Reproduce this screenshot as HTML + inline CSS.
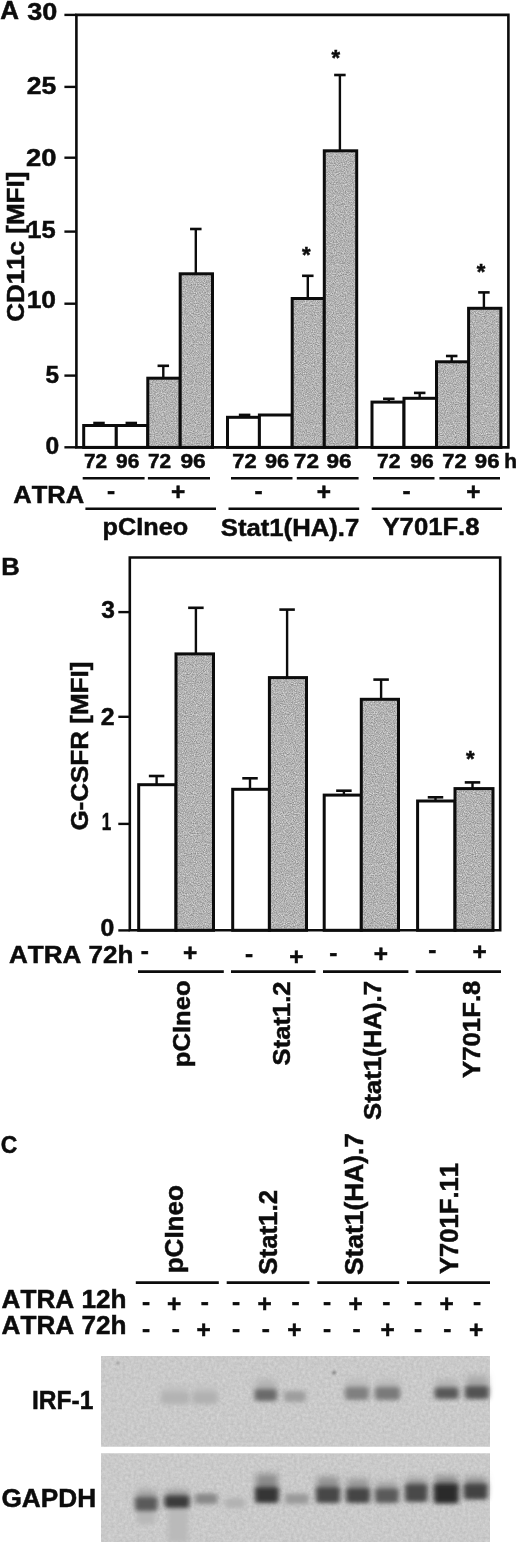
<!DOCTYPE html>
<html><head><meta charset="utf-8"><title>Figure</title>
<style>
html,body{margin:0;padding:0;background:#fff;}
svg{display:block;}
text{font-family:"Liberation Sans",Arial,sans-serif;font-weight:bold;font-kerning:none;fill:#0c0c0c;stroke:#0c0c0c;stroke-width:0.5px;}
</style></head><body>
<svg width="520" height="1542" viewBox="0 0 520 1542">
<defs>
<filter id="blur" x="-50%" y="-80%" width="200%" height="260%"><feGaussianBlur stdDeviation="2.4 2.2"/></filter>
<filter id="blur2" x="-50%" y="-80%" width="200%" height="260%"><feGaussianBlur stdDeviation="3 3.5"/></filter>
<filter id="blur1" x="-100%" y="-100%" width="300%" height="300%"><feGaussianBlur stdDeviation="0.8"/></filter>
<filter id="grain" x="0" y="0" width="100%" height="100%" color-interpolation-filters="sRGB">
 <feTurbulence type="fractalNoise" baseFrequency="0.9" numOctaves="2" seed="7" result="t"/>
 <feColorMatrix in="t" type="matrix" values="0.5 0 0 0 0.449  0.5 0 0 0 0.449  0.5 0 0 0 0.449  0 0 0 0 1" result="g"/>
 <feComposite in="g" in2="SourceGraphic" operator="in"/>
</filter>
<filter id="grain2" x="0" y="0" width="100%" height="100%" color-interpolation-filters="sRGB">
 <feTurbulence type="fractalNoise" baseFrequency="0.35" numOctaves="3" seed="3" result="t"/>
 <feColorMatrix in="t" type="matrix" values="0.12 0 0 0 0.73  0.12 0 0 0 0.73  0.12 0 0 0 0.73  0 0 0 0 1" result="g"/>
 <feComposite in="g" in2="SourceGraphic" operator="in"/>
</filter>
</defs>
<rect width="520" height="1542" fill="#fff"/>
<line x1="99.0" y1="425.5" x2="99.0" y2="423.0" stroke="#0c0c0c" stroke-width="2.4"/>
<line x1="93.25" y1="423.0" x2="104.75" y2="423.0" stroke="#0c0c0c" stroke-width="2.6"/>
<rect x="83.7" y="425.5" width="32.60" height="21.90" fill="#fff" stroke="#0c0c0c" stroke-width="3.0"/>
<line x1="131.3" y1="425.5" x2="131.3" y2="423.0" stroke="#0c0c0c" stroke-width="2.4"/>
<line x1="125.55000000000001" y1="423.0" x2="137.05" y2="423.0" stroke="#0c0c0c" stroke-width="2.6"/>
<rect x="116.3" y="425.5" width="31.50" height="21.90" fill="#fff" stroke="#0c0c0c" stroke-width="3.0"/>
<line x1="163.3" y1="378.2" x2="163.3" y2="365.8" stroke="#0c0c0c" stroke-width="2.4"/>
<line x1="157.55" y1="365.8" x2="169.05" y2="365.8" stroke="#0c0c0c" stroke-width="2.6"/>
<rect x="147.8" y="378.2" width="32.40" height="69.20" fill="#b2b2b2" filter="url(#grain)"/>
<rect x="147.8" y="378.2" width="32.40" height="69.20" fill="none" stroke="#0c0c0c" stroke-width="3.0"/>
<line x1="195.8" y1="273.8" x2="195.8" y2="229" stroke="#0c0c0c" stroke-width="2.4"/>
<line x1="190.05" y1="229" x2="201.55" y2="229" stroke="#0c0c0c" stroke-width="2.6"/>
<rect x="180.2" y="273.8" width="32.30" height="173.60" fill="#b2b2b2" filter="url(#grain)"/>
<rect x="180.2" y="273.8" width="32.30" height="173.60" fill="none" stroke="#0c0c0c" stroke-width="3.0"/>
<line x1="244.6" y1="417.3" x2="244.6" y2="414.9" stroke="#0c0c0c" stroke-width="2.4"/>
<line x1="238.85" y1="414.9" x2="250.35" y2="414.9" stroke="#0c0c0c" stroke-width="2.6"/>
<rect x="227.5" y="417.3" width="31.90" height="30.10" fill="#fff" stroke="#0c0c0c" stroke-width="3.0"/>
<rect x="259.4" y="415" width="32.80" height="32.40" fill="#fff" stroke="#0c0c0c" stroke-width="3.0"/>
<line x1="307.8" y1="298.5" x2="307.8" y2="275.8" stroke="#0c0c0c" stroke-width="2.4"/>
<line x1="302.05" y1="275.8" x2="313.55" y2="275.8" stroke="#0c0c0c" stroke-width="2.6"/>
<rect x="292.2" y="298.5" width="32.10" height="148.90" fill="#b2b2b2" filter="url(#grain)"/>
<rect x="292.2" y="298.5" width="32.10" height="148.90" fill="none" stroke="#0c0c0c" stroke-width="3.0"/>
<line x1="339.9" y1="150.8" x2="339.9" y2="75" stroke="#0c0c0c" stroke-width="2.4"/>
<line x1="334.15" y1="75" x2="345.65" y2="75" stroke="#0c0c0c" stroke-width="2.6"/>
<rect x="324.3" y="150.8" width="32.40" height="296.60" fill="#b2b2b2" filter="url(#grain)"/>
<rect x="324.3" y="150.8" width="32.40" height="296.60" fill="none" stroke="#0c0c0c" stroke-width="3.0"/>
<line x1="388.8" y1="402.1" x2="388.8" y2="398.8" stroke="#0c0c0c" stroke-width="2.4"/>
<line x1="383.05" y1="398.8" x2="394.55" y2="398.8" stroke="#0c0c0c" stroke-width="2.6"/>
<rect x="372" y="402.1" width="32.00" height="45.30" fill="#fff" stroke="#0c0c0c" stroke-width="3.0"/>
<line x1="419.7" y1="398.3" x2="419.7" y2="392.9" stroke="#0c0c0c" stroke-width="2.4"/>
<line x1="413.95" y1="392.9" x2="425.45" y2="392.9" stroke="#0c0c0c" stroke-width="2.6"/>
<rect x="404" y="398.3" width="32.50" height="49.10" fill="#fff" stroke="#0c0c0c" stroke-width="3.0"/>
<line x1="451.7" y1="361.8" x2="451.7" y2="356" stroke="#0c0c0c" stroke-width="2.4"/>
<line x1="445.95" y1="356" x2="457.45" y2="356" stroke="#0c0c0c" stroke-width="2.6"/>
<rect x="436.5" y="361.8" width="32.10" height="85.60" fill="#b2b2b2" filter="url(#grain)"/>
<rect x="436.5" y="361.8" width="32.10" height="85.60" fill="none" stroke="#0c0c0c" stroke-width="3.0"/>
<line x1="483.9" y1="308.3" x2="483.9" y2="292.4" stroke="#0c0c0c" stroke-width="2.4"/>
<line x1="478.15" y1="292.4" x2="489.65" y2="292.4" stroke="#0c0c0c" stroke-width="2.6"/>
<rect x="468.6" y="308.3" width="32.30" height="139.10" fill="#b2b2b2" filter="url(#grain)"/>
<rect x="468.6" y="308.3" width="32.30" height="139.10" fill="none" stroke="#0c0c0c" stroke-width="3.0"/>
<path d="M76.4,447.4 V14.9 H508.4 V447.4 Z" fill="none" stroke="#0c0c0c" stroke-width="2.6"/>
<line x1="64.4" y1="14.9" x2="76.4" y2="14.9" stroke="#0c0c0c" stroke-width="2.4"/>
<line x1="64.4" y1="86.9" x2="76.4" y2="86.9" stroke="#0c0c0c" stroke-width="2.4"/>
<line x1="64.4" y1="157.7" x2="76.4" y2="157.7" stroke="#0c0c0c" stroke-width="2.4"/>
<line x1="64.4" y1="231.6" x2="76.4" y2="231.6" stroke="#0c0c0c" stroke-width="2.4"/>
<line x1="64.4" y1="303.7" x2="76.4" y2="303.7" stroke="#0c0c0c" stroke-width="2.4"/>
<line x1="64.4" y1="375.6" x2="76.4" y2="375.6" stroke="#0c0c0c" stroke-width="2.4"/>
<line x1="64.4" y1="447.3" x2="76.4" y2="447.3" stroke="#0c0c0c" stroke-width="2.4"/>
<text x="0.20" y="19.00" font-size="25.00" textLength="18.73" lengthAdjust="spacingAndGlyphs">A</text>
<text x="27.33" y="19.80" font-size="24.00" textLength="30.03" lengthAdjust="spacingAndGlyphs">30</text>
<text x="26.83" y="94.30" font-size="24.00" textLength="29.46" lengthAdjust="spacingAndGlyphs">25</text>
<text x="26.10" y="166.10" font-size="24.00" textLength="30.47" lengthAdjust="spacingAndGlyphs">20</text>
<text x="27.35" y="238.00" font-size="24.00" textLength="28.31" lengthAdjust="spacingAndGlyphs">15</text>
<text x="26.69" y="307.90" font-size="24.00" textLength="29.34" lengthAdjust="spacingAndGlyphs">10</text>
<text x="45.40" y="383.00" font-size="24.00" textLength="13.52" lengthAdjust="spacingAndGlyphs">5</text>
<text x="45.58" y="454.20" font-size="24.00" textLength="13.68" lengthAdjust="spacingAndGlyphs">0</text>
<text transform="translate(24.40,321.00) rotate(-90)" x="-0.82" y="0" font-size="24.00" textLength="150.12" lengthAdjust="spacingAndGlyphs">CD11c [MFI]</text>
<text x="301.90" y="261.84" font-size="22.00">*</text>
<text x="331.40" y="64.94" font-size="22.00">*</text>
<text x="476.70" y="279.04" font-size="22.00">*</text>
<text x="83.96" y="467.50" font-size="19.60" textLength="23.13" lengthAdjust="spacingAndGlyphs">72</text>
<text x="116.12" y="467.50" font-size="19.60" textLength="23.28" lengthAdjust="spacingAndGlyphs">96</text>
<text x="147.96" y="467.50" font-size="19.60" textLength="23.13" lengthAdjust="spacingAndGlyphs">72</text>
<text x="180.46" y="467.50" font-size="19.60" textLength="25.31" lengthAdjust="spacingAndGlyphs">96</text>
<text x="232.31" y="467.50" font-size="19.60" textLength="24.31" lengthAdjust="spacingAndGlyphs">72</text>
<text x="264.90" y="467.50" font-size="19.60" textLength="24.14" lengthAdjust="spacingAndGlyphs">96</text>
<text x="293.88" y="467.50" font-size="19.60" textLength="25.07" lengthAdjust="spacingAndGlyphs">72</text>
<text x="326.47" y="467.50" font-size="19.60" textLength="25.10" lengthAdjust="spacingAndGlyphs">96</text>
<text x="377.14" y="467.50" font-size="19.60" textLength="23.45" lengthAdjust="spacingAndGlyphs">72</text>
<text x="410.32" y="467.50" font-size="19.60" textLength="23.39" lengthAdjust="spacingAndGlyphs">96</text>
<text x="442.31" y="467.50" font-size="19.60" textLength="24.31" lengthAdjust="spacingAndGlyphs">72</text>
<text x="474.88" y="467.50" font-size="19.60" textLength="24.67" lengthAdjust="spacingAndGlyphs">96</text>
<text x="504.29" y="467.50" font-size="19.60" textLength="12.75" lengthAdjust="spacingAndGlyphs">h</text>
<line x1="82.7" y1="478.2" x2="144.6" y2="478.2" stroke="#0c0c0c" stroke-width="2.4"/>
<line x1="147.9" y1="478.2" x2="210" y2="478.2" stroke="#0c0c0c" stroke-width="2.4"/>
<line x1="231" y1="478.2" x2="292.5" y2="478.2" stroke="#0c0c0c" stroke-width="2.4"/>
<line x1="296.8" y1="478.2" x2="358.6" y2="478.2" stroke="#0c0c0c" stroke-width="2.4"/>
<line x1="373" y1="478.2" x2="434.5" y2="478.2" stroke="#0c0c0c" stroke-width="2.4"/>
<line x1="439.4" y1="478.2" x2="500" y2="478.2" stroke="#0c0c0c" stroke-width="2.4"/>
<text x="13.32" y="503.20" font-size="24.30" textLength="70.81" lengthAdjust="spacingAndGlyphs">ATRA</text>
<text x="107.10" y="498.53" font-size="24.40">-</text>
<text x="254.60" y="498.53" font-size="24.40">-</text>
<text x="402.50" y="498.53" font-size="24.40">-</text>
<text x="170.91" y="500.41" font-size="24.40">+</text>
<text x="316.71" y="500.41" font-size="24.40">+</text>
<text x="466.21" y="500.41" font-size="24.40">+</text>
<line x1="85.4" y1="508.8" x2="216" y2="508.8" stroke="#0c0c0c" stroke-width="2.5"/>
<line x1="228.5" y1="508.8" x2="359.2" y2="508.8" stroke="#0c0c0c" stroke-width="2.5"/>
<line x1="371.7" y1="508.8" x2="502" y2="508.8" stroke="#0c0c0c" stroke-width="2.5"/>
<text x="102.59" y="535.30" font-size="24.00" textLength="85.55" lengthAdjust="spacingAndGlyphs">pCIneo</text>
<text x="220.81" y="536.30" font-size="24.00" textLength="138.47" lengthAdjust="spacingAndGlyphs">Stat1(HA).7</text>
<text x="382.51" y="535.40" font-size="24.00" textLength="97.03" lengthAdjust="spacingAndGlyphs">Y701F.8</text>
<line x1="156.6" y1="784.7" x2="156.6" y2="776" stroke="#0c0c0c" stroke-width="2.4"/>
<line x1="148.85" y1="776" x2="164.35" y2="776" stroke="#0c0c0c" stroke-width="2.6"/>
<rect x="138.7" y="784.7" width="37.30" height="145.60" fill="#fff" stroke="#0c0c0c" stroke-width="3.0"/>
<line x1="195.9" y1="653.9" x2="195.9" y2="607.8" stroke="#0c0c0c" stroke-width="2.4"/>
<line x1="188.15" y1="607.8" x2="203.65" y2="607.8" stroke="#0c0c0c" stroke-width="2.6"/>
<rect x="176" y="653.9" width="37.50" height="276.40" fill="#b2b2b2" filter="url(#grain)"/>
<rect x="176" y="653.9" width="37.50" height="276.40" fill="none" stroke="#0c0c0c" stroke-width="3.0"/>
<line x1="250" y1="789.3" x2="250" y2="778.3" stroke="#0c0c0c" stroke-width="2.4"/>
<line x1="242.25" y1="778.3" x2="257.75" y2="778.3" stroke="#0c0c0c" stroke-width="2.6"/>
<rect x="232.7" y="789.3" width="36.70" height="141.00" fill="#fff" stroke="#0c0c0c" stroke-width="3.0"/>
<line x1="287.1" y1="677.6" x2="287.1" y2="609.6" stroke="#0c0c0c" stroke-width="2.4"/>
<line x1="279.35" y1="609.6" x2="294.85" y2="609.6" stroke="#0c0c0c" stroke-width="2.6"/>
<rect x="269.4" y="677.6" width="37.10" height="252.70" fill="#b2b2b2" filter="url(#grain)"/>
<rect x="269.4" y="677.6" width="37.10" height="252.70" fill="none" stroke="#0c0c0c" stroke-width="3.0"/>
<line x1="343.9" y1="795.1" x2="343.9" y2="790.7" stroke="#0c0c0c" stroke-width="2.4"/>
<line x1="336.15" y1="790.7" x2="351.65" y2="790.7" stroke="#0c0c0c" stroke-width="2.6"/>
<rect x="324.2" y="795.1" width="37.10" height="135.20" fill="#fff" stroke="#0c0c0c" stroke-width="3.0"/>
<line x1="381.1" y1="699.3" x2="381.1" y2="679.6" stroke="#0c0c0c" stroke-width="2.4"/>
<line x1="373.35" y1="679.6" x2="388.85" y2="679.6" stroke="#0c0c0c" stroke-width="2.6"/>
<rect x="361.3" y="699.3" width="37.20" height="231.00" fill="#b2b2b2" filter="url(#grain)"/>
<rect x="361.3" y="699.3" width="37.20" height="231.00" fill="none" stroke="#0c0c0c" stroke-width="3.0"/>
<line x1="435.5" y1="801" x2="435.5" y2="797.3" stroke="#0c0c0c" stroke-width="2.4"/>
<line x1="427.75" y1="797.3" x2="443.25" y2="797.3" stroke="#0c0c0c" stroke-width="2.6"/>
<rect x="417.6" y="801" width="37.40" height="129.30" fill="#fff" stroke="#0c0c0c" stroke-width="3.0"/>
<line x1="472.5" y1="788.6" x2="472.5" y2="782.4" stroke="#0c0c0c" stroke-width="2.4"/>
<line x1="464.75" y1="782.4" x2="480.25" y2="782.4" stroke="#0c0c0c" stroke-width="2.6"/>
<rect x="455" y="788.6" width="38.00" height="141.70" fill="#b2b2b2" filter="url(#grain)"/>
<rect x="455" y="788.6" width="38.00" height="141.70" fill="none" stroke="#0c0c0c" stroke-width="3.0"/>
<path d="M129.8,930.3 V557.5 H500.2 V930.3 Z" fill="none" stroke="#0c0c0c" stroke-width="2.6"/>
<line x1="118.3" y1="930.4" x2="129.8" y2="930.4" stroke="#0c0c0c" stroke-width="2.4"/>
<line x1="118.3" y1="823.9" x2="129.8" y2="823.9" stroke="#0c0c0c" stroke-width="2.4"/>
<line x1="118.3" y1="716.8" x2="129.8" y2="716.8" stroke="#0c0c0c" stroke-width="2.4"/>
<line x1="118.3" y1="612.1" x2="129.8" y2="612.1" stroke="#0c0c0c" stroke-width="2.4"/>
<text x="1.24" y="575.00" font-size="24.00" textLength="18.47" lengthAdjust="spacingAndGlyphs">B</text>
<text x="101.19" y="618.40" font-size="24.00" textLength="13.65" lengthAdjust="spacingAndGlyphs">3</text>
<text x="100.89" y="725.00" font-size="24.00" textLength="13.86" lengthAdjust="spacingAndGlyphs">2</text>
<text x="101.78" y="829.50" font-size="24.00" textLength="9.44" lengthAdjust="spacingAndGlyphs">1</text>
<text x="100.57" y="936.40" font-size="24.00" textLength="13.80" lengthAdjust="spacingAndGlyphs">0</text>
<text transform="translate(88.00,829.80) rotate(-90)" x="-0.82" y="0" font-size="24.00" textLength="168.93" lengthAdjust="spacingAndGlyphs">G-CSFR [MFI]</text>
<text x="465.90" y="765.74" font-size="22.00">*</text>
<text x="9.00" y="963.30" font-size="24.50" textLength="124.36" lengthAdjust="spacingAndGlyphs">ATRA 72h</text>
<text x="140.70" y="959.23" font-size="24.40">-</text>
<text x="244.95" y="961.73" font-size="24.40">-</text>
<text x="329.15" y="960.63" font-size="24.40">-</text>
<text x="428.25" y="957.53" font-size="24.40">-</text>
<text x="182.91" y="961.21" font-size="24.40">+</text>
<text x="289.31" y="964.51" font-size="24.40">+</text>
<text x="373.71" y="962.46" font-size="24.40">+</text>
<text x="472.46" y="960.06" font-size="24.40">+</text>
<line x1="138" y1="971.7" x2="223.8" y2="971.7" stroke="#0c0c0c" stroke-width="2.8"/>
<line x1="231" y1="971.7" x2="315.6" y2="971.7" stroke="#0c0c0c" stroke-width="2.8"/>
<line x1="323" y1="971.7" x2="408.4" y2="971.7" stroke="#0c0c0c" stroke-width="2.8"/>
<line x1="415.7" y1="971.7" x2="501" y2="971.7" stroke="#0c0c0c" stroke-width="2.8"/>
<text transform="translate(189.70,1065.80) rotate(-90)" x="-1.44" y="0" font-size="24.50" textLength="86.79" lengthAdjust="spacingAndGlyphs">pCIneo</text>
<text transform="translate(289.60,1064.90) rotate(-90)" x="-0.49" y="0" font-size="24.50" textLength="83.96" lengthAdjust="spacingAndGlyphs">Stat1.2</text>
<text transform="translate(380.90,1119.50) rotate(-90)" x="-0.49" y="0" font-size="24.50" textLength="139.08" lengthAdjust="spacingAndGlyphs">Stat1(HA).7</text>
<text transform="translate(479.80,1077.70) rotate(-90)" x="-0.19" y="0" font-size="24.50" textLength="97.23" lengthAdjust="spacingAndGlyphs">Y701F.8</text>
<text x="0.81" y="1152.60" font-size="24.60" textLength="16.57" lengthAdjust="spacingAndGlyphs">C</text>
<text transform="translate(182.80,1271.90) rotate(-90)" x="-1.47" y="0" font-size="26.00" textLength="88.34" lengthAdjust="spacingAndGlyphs">pCIneo</text>
<text transform="translate(276.80,1274.20) rotate(-90)" x="-0.49" y="0" font-size="26.00" textLength="84.68" lengthAdjust="spacingAndGlyphs">Stat1.2</text>
<text transform="translate(362.80,1274.50) rotate(-90)" x="-0.51" y="0" font-size="26.00" textLength="142.02" lengthAdjust="spacingAndGlyphs">Stat1(HA).7</text>
<text transform="translate(457.80,1273.80) rotate(-90)" x="-0.19" y="0" font-size="26.00" textLength="110.95" lengthAdjust="spacingAndGlyphs">Y701F.11</text>
<line x1="135.8" y1="1282.6" x2="218.8" y2="1282.6" stroke="#0c0c0c" stroke-width="2.6"/>
<line x1="226.7" y1="1282.6" x2="309.4" y2="1282.6" stroke="#0c0c0c" stroke-width="2.6"/>
<line x1="317.3" y1="1282.6" x2="399.2" y2="1282.6" stroke="#0c0c0c" stroke-width="2.6"/>
<line x1="407" y1="1282.6" x2="490" y2="1282.6" stroke="#0c0c0c" stroke-width="2.6"/>
<text x="1.60" y="1307.70" font-size="25.50" textLength="124.97" lengthAdjust="spacingAndGlyphs">ATRA 12h</text>
<text x="1.60" y="1333.90" font-size="25.50" textLength="124.97" lengthAdjust="spacingAndGlyphs">ATRA 72h</text>
<text x="142.00" y="1310.03" font-size="24.40">-</text>
<text x="167.11" y="1312.11" font-size="24.40">+</text>
<text x="200.80" y="1310.03" font-size="24.40">-</text>
<text x="232.00" y="1310.03" font-size="24.40">-</text>
<text x="257.61" y="1312.11" font-size="24.40">+</text>
<text x="291.55" y="1310.03" font-size="24.40">-</text>
<text x="323.00" y="1310.03" font-size="24.40">-</text>
<text x="348.56" y="1312.11" font-size="24.40">+</text>
<text x="382.20" y="1310.03" font-size="24.40">-</text>
<text x="413.90" y="1310.03" font-size="24.40">-</text>
<text x="439.61" y="1312.11" font-size="24.40">+</text>
<text x="472.90" y="1310.03" font-size="24.40">-</text>
<text x="142.00" y="1336.93" font-size="24.40">-</text>
<text x="171.75" y="1336.93" font-size="24.40">-</text>
<text x="196.56" y="1338.41" font-size="24.40">+</text>
<text x="232.00" y="1336.93" font-size="24.40">-</text>
<text x="261.75" y="1336.93" font-size="24.40">-</text>
<text x="287.36" y="1338.41" font-size="24.40">+</text>
<text x="323.00" y="1336.93" font-size="24.40">-</text>
<text x="352.50" y="1336.93" font-size="24.40">-</text>
<text x="380.56" y="1338.41" font-size="24.40">+</text>
<text x="413.90" y="1336.93" font-size="24.40">-</text>
<text x="443.35" y="1336.93" font-size="24.40">-</text>
<text x="468.96" y="1338.41" font-size="24.40">+</text>
<text x="32.01" y="1409.00" font-size="26.50" textLength="61.43" lengthAdjust="spacingAndGlyphs">IRF-1</text>
<text x="1.48" y="1507.20" font-size="26.00" textLength="94.64" lengthAdjust="spacingAndGlyphs">GAPDH</text>
<rect x="101" y="1356" width="389" height="90.5" fill="#c9c9c9"/>
<rect x="101" y="1356" width="389" height="90.5" fill="#c9c9c9" filter="url(#grain2)"/>
<line x1="245.5" y1="1356" x2="245.5" y2="1371" stroke="#8a8a8a" stroke-width="1.6" filter="url(#blur1)"/><circle cx="334" cy="1372.5" r="1.6" fill="#666" filter="url(#blur1)"/><circle cx="118" cy="1363" r="1.3" fill="#888" filter="url(#blur1)"/>
<rect x="162" y="1386" width="26" height="11" fill="#c0c0c0" filter="url(#blur2)"/>
<rect x="161" y="1392" width="28" height="12" rx="3" fill="#b3b3b3" filter="url(#blur)"/>
<rect x="193.5" y="1386" width="23.0" height="11" fill="#c0c0c0" filter="url(#blur2)"/>
<rect x="192.5" y="1392" width="25.0" height="12" rx="3" fill="#b1b1b1" filter="url(#blur)"/>
<rect x="255.6" y="1380" width="20.400000000000006" height="14" fill="#b0b0b0" filter="url(#blur2)"/>
<rect x="254.6" y="1389" width="22.400000000000006" height="12" rx="3" fill="#6a6a6a" filter="url(#blur)"/>
<rect x="283.8" y="1391" width="22.19999999999999" height="11" rx="3" fill="#9e9e9e" filter="url(#blur)"/>
<rect x="346" y="1380" width="21.69999999999999" height="12" fill="#b8b8b8" filter="url(#blur2)"/>
<rect x="345" y="1387" width="23.69999999999999" height="13" rx="3" fill="#808080" filter="url(#blur)"/>
<rect x="376" y="1380" width="23" height="12" fill="#b8b8b8" filter="url(#blur2)"/>
<rect x="375" y="1387" width="25" height="13" rx="3" fill="#7a7a7a" filter="url(#blur)"/>
<rect x="435.7" y="1380" width="21.80000000000001" height="12.5" fill="#b0b0b0" filter="url(#blur2)"/>
<rect x="434.7" y="1387.5" width="23.80000000000001" height="11.5" rx="3" fill="#585858" filter="url(#blur)"/>
<rect x="466" y="1376" width="21.69999999999999" height="15" fill="#a8a8a8" filter="url(#blur2)"/>
<rect x="465" y="1386" width="23.69999999999999" height="13" rx="3" fill="#525252" filter="url(#blur)"/>
<rect x="101" y="1453.5" width="389" height="88.5" fill="#c9c9c9"/>
<rect x="101" y="1453.5" width="389" height="88.5" fill="#c9c9c9" filter="url(#grain2)"/>
<rect x="168" y="1508" width="20" height="34" fill="#bababa" filter="url(#blur)"/><rect x="137" y="1510" width="18" height="14" fill="#b8b8b8" filter="url(#blur)"/>
<rect x="136" y="1490" width="20.5" height="12" fill="#a0a0a0" filter="url(#blur2)"/>
<rect x="135" y="1497" width="22.5" height="14" rx="3" fill="#5a5a5a" filter="url(#blur)"/>
<rect x="165.5" y="1490" width="23.0" height="10.5" fill="#9a9a9a" filter="url(#blur2)"/>
<rect x="164.5" y="1495.5" width="25.0" height="12.5" rx="3" fill="#3a3a3a" filter="url(#blur)"/>
<rect x="195" y="1493.5" width="22.5" height="10.5" rx="3" fill="#888888" filter="url(#blur)"/>
<rect x="225" y="1498" width="20" height="10" rx="3" fill="#b2b2b2" filter="url(#blur)"/>
<rect x="256" y="1474" width="21.69999999999999" height="18" fill="#8a8a8a" filter="url(#blur2)"/>
<rect x="255" y="1487" width="23.69999999999999" height="16" rx="3" fill="#363636" filter="url(#blur)"/>
<rect x="285" y="1493.5" width="23.69999999999999" height="10.5" rx="3" fill="#9a9a9a" filter="url(#blur)"/>
<rect x="317" y="1477" width="22" height="15" fill="#909090" filter="url(#blur2)"/>
<rect x="316" y="1487" width="24" height="16" rx="3" fill="#464646" filter="url(#blur)"/>
<rect x="347" y="1479" width="22" height="14" fill="#959595" filter="url(#blur2)"/>
<rect x="346" y="1488" width="24" height="15" rx="3" fill="#454545" filter="url(#blur)"/>
<rect x="376" y="1482" width="21.69999999999999" height="11.5" fill="#a0a0a0" filter="url(#blur2)"/>
<rect x="375" y="1488.5" width="23.69999999999999" height="14.5" rx="3" fill="#5a5a5a" filter="url(#blur)"/>
<rect x="406" y="1478" width="20.5" height="11" fill="#9a9a9a" filter="url(#blur2)"/>
<rect x="405" y="1484" width="22.5" height="18" rx="3" fill="#484848" filter="url(#blur)"/>
<rect x="434.7" y="1476" width="23.0" height="12.5" fill="#8a8a8a" filter="url(#blur2)"/>
<rect x="433.7" y="1483.5" width="25.0" height="20.0" rx="3" fill="#2c2c2c" filter="url(#blur)"/>
<rect x="464.7" y="1477" width="21.80000000000001" height="11.5" fill="#959595" filter="url(#blur2)"/>
<rect x="463.7" y="1483.5" width="23.80000000000001" height="16.0" rx="3" fill="#424242" filter="url(#blur)"/>
</svg>
</body></html>
